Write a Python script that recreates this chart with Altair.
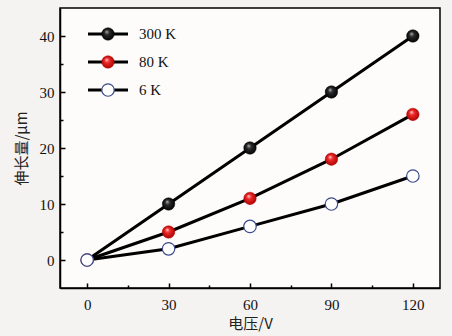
import altair as alt
import pandas as pd

voltage = [0, 30, 60, 90, 120]
s300 = [0, 10, 20, 30, 40]
s80 = [0, 5, 11, 18, 26]
s6 = [0, 2, 6, 10, 15]
series_names = ["300 K", "80 K", "6 K"]
x_major = [0, 30, 60, 90, 120]
x_minor = [15, 45, 75, 105]
y_major = [0, 10, 20, 30, 40]
y_minor = [5, 15, 25, 35]

rows = []
for name, vals in zip(series_names, [s300, s80, s6]):
    for v, e in zip(voltage, vals):
        rows.append({"V": v, "E": e, "s": name})
df = pd.DataFrame(rows)

W, H = 380, 280
FONT = "Liberation Serif"
CJK = "Noto Sans CJK SC"

xs = alt.Scale(domain=[-10, 130], nice=False, zero=False)
ys = alt.Scale(domain=[-5, 45], nice=False, zero=False)

black_grad = alt.Gradient(gradient="radial", x1=0.38, y1=0.3, r1=0.0, x2=0.5, y2=0.5, r2=0.55,
                          stops=[alt.GradientStop(offset=0, color="#bdbdbd"),
                                 alt.GradientStop(offset=0.35, color="#2a2a2a"),
                                 alt.GradientStop(offset=1, color="#000000")])
red_grad = alt.Gradient(gradient="radial", x1=0.38, y1=0.3, r1=0.0, x2=0.5, y2=0.5, r2=0.55,
                        stops=[alt.GradientStop(offset=0, color="#ffd6d6"),
                               alt.GradientStop(offset=0.35, color="#ee2a2a"),
                               alt.GradientStop(offset=1, color="#a80000")])

ax_x = alt.Axis(values=x_major, tickSize=0, labelPadding=9, domain=True, domainColor="black",
                domainWidth=1.5, grid=False, labelFont=FONT, labelFontSize=15, labelColor="#111",
                title="电压/V", titleFont=CJK, titleFontSize=15, titleFontWeight="normal",
                titleColor="#222", titlePadding=4, orient="bottom")
ax_y = alt.Axis(values=y_major, tickSize=0, labelPadding=6, domain=True, domainColor="black",
                domainWidth=1.5, grid=False, labelFont=FONT, labelFontSize=15, labelColor="#111",
                title="伸长量/μm", titleFont=CJK, titleFontSize=15, titleFontWeight="normal",
                titleColor="#222", titlePadding=10, orient="left")

base = alt.Chart(df)

lines = base.mark_line(color="black", strokeWidth=3).encode(
    x=alt.X("V:Q", scale=xs, axis=ax_x),
    y=alt.Y("E:Q", scale=ys, axis=ax_y),
    detail="s:N",
)

def tick_layer(xv, yv, size):
    return base.mark_point(opacity=0).encode(
        x=alt.X("V:Q", scale=xs, axis=alt.Axis(values=xv, orient="bottom", offset=-size, tickSize=size,
                                               tickWidth=1.5, tickColor="black", labels=False, domain=False,
                                               grid=False, title=None)),
        y=alt.Y("E:Q", scale=ys, axis=alt.Axis(values=yv, orient="left", offset=-size, tickSize=size,
                                               tickWidth=1.5, tickColor="black", labels=False, domain=False,
                                               grid=False, title=None)),
    )

major_ticks = tick_layer(x_major, y_major, 5)
minor_ticks = tick_layer(x_minor, y_minor, 3)

def pts(name, fill, stroke, sw):
    return base.transform_filter(alt.datum.s == name).mark_circle(
        size=155, fill=fill, stroke=stroke, strokeWidth=sw, opacity=1, fillOpacity=1
    ).encode(x=alt.X("V:Q", scale=xs, axis=None), y=alt.Y("E:Q", scale=ys, axis=None))

p300 = pts("300 K", black_grad, "#000000", 0.5)
p80 = pts("80 K", red_grad, "#b00000", 0.5)
p6 = pts("6 K", "#ffffff", "#3b4a8c", 1.2)

# legend (positions in pixels)
leg_y = [26, 54, 82]
leg_df = pd.DataFrame({"s": series_names, "py": leg_y})
leg_base = alt.Chart(leg_df)
leg_lines = leg_base.mark_rule(color="black", strokeWidth=3).encode(
    x=alt.value(28), x2=alt.value(68), y=alt.Y("py:Q", scale=None, axis=None))
leg_text = leg_base.mark_text(align="left", baseline="middle", font=FONT, fontSize=15, color="#111").encode(
    x=alt.value(79), y=alt.Y("py:Q", scale=None, axis=None), text="s:N")

def leg_pt(i, fill, stroke, sw):
    return alt.Chart(leg_df.iloc[[i]]).mark_circle(size=155, fill=fill, stroke=stroke, strokeWidth=sw,
                                                  opacity=1, fillOpacity=1).encode(
        x=alt.value(48), y=alt.Y("py:Q", scale=None, axis=None))

chart = alt.layer(
    lines, major_ticks, minor_ticks, p300, p80, p6,
    leg_lines, leg_pt(0, black_grad, "#000000", 0.5), leg_pt(1, red_grad, "#b00000", 0.5),
    leg_pt(2, "#ffffff", "#3b4a8c", 1.2), leg_text,
).resolve_axis(x="independent", y="independent").properties(
    width=W, height=H,
    autosize=alt.AutoSizeParams(type="none"),
    padding={"left": 60, "top": 8, "right": 12, "bottom": 48},
    background="#f5f3f1",
).configure_view(fill="#fdfcfa", stroke="black", strokeWidth=1.5)

chart.save("out.html", embed_options={"renderer": "svg", "actions": False})
